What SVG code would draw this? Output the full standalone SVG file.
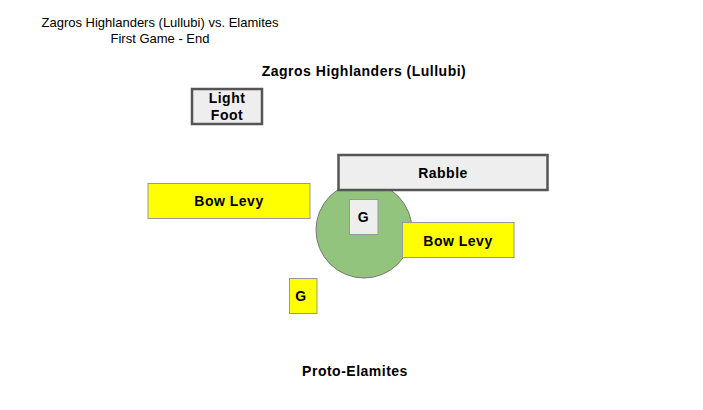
<svg xmlns="http://www.w3.org/2000/svg" width="703" height="410" viewBox="0 0 703 410">
<style>
text{font-family:"Liberation Sans",Arial,sans-serif;font-size:13px;fill:#000;text-anchor:middle}
.b{font-weight:bold;font-size:14px;letter-spacing:0.5px}
.heavy{fill:#eeeeee;stroke:#555555;stroke-width:2.5}
.yel{fill:#ffff00;stroke:#999999;stroke-width:1}
.lite{fill:#eeeeee;stroke:#999999;stroke-width:1}
</style>
<rect width="703" height="410" fill="#ffffff"/>
<text x="160" y="27">Zagros Highlanders (Lullubi) vs. Elamites</text>
<text x="160" y="43">First Game - End</text>
<text class="b" x="364" y="76">Zagros Highlanders (Lullubi)</text>
<text class="b" x="355" y="376">Proto-Elamites</text>
<g id="area"><circle cx="364" cy="230" r="48" fill="#93c47d" stroke="#777777" stroke-width="1"/></g>
<g id="lightfoot"><rect class="heavy" x="192" y="89" width="70" height="35"/><text class="b" x="227" y="103">Light</text><text class="b" x="227" y="120">Foot</text></g>
<g id="bowlevy1"><rect class="yel" x="148" y="183.5" width="162" height="35"/><text class="b" x="229" y="206">Bow Levy</text></g>
<g id="rabble"><rect class="heavy" x="338.5" y="155" width="209" height="35"/><text class="b" x="443" y="178">Rabble</text></g>
<g id="g1"><rect class="lite" x="349.5" y="199.5" width="28.5" height="35"/><text class="b" x="363.5" y="222">G</text></g>
<g id="bowlevy2"><rect class="yel" x="402.5" y="222.5" width="111.5" height="35"/><text class="b" x="458" y="246">Bow Levy</text></g>
<g id="g2"><rect class="yel" x="289.5" y="278.5" width="27.5" height="35"/><text class="b" x="301" y="301">G</text></g>
<g id="connectors"></g>
</svg>
